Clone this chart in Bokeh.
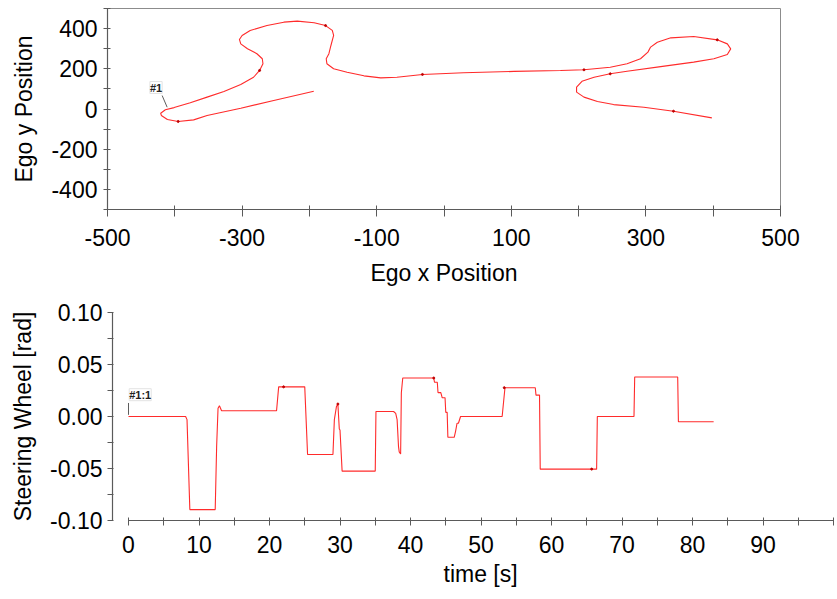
from bokeh.plotting import figure
from bokeh.layouts import column, row
from bokeh.models import Range1d, FixedTicker, NumeralTickFormatter, Label, Title
from bokeh.embed import file_html
from bokeh.resources import INLINE

# ---- ego trajectory (x/y position) ----
ego_x = [-193.5, -253, -302, -352, -372, -395, -411, -420, -421, -414,
         -401, -377, -352, -327, -302, -283, -274, -269, -270, -278,
         -292, -302, -304, -300, -288, -263, -238, -218, -193, -176,
         -166, -164, -168, -171, -175, -174, -164, -144, -119, -94,
         -70, -32, 29, 104, 173, 208, 247, 272, 292, 303,
         307, 317, 337, 371, 406, 421, 426, 421, 401, 371,
         322, 272, 247, 223, 205, 197, 197, 208, 228, 252,
         297, 341, 398]
ego_y = [88.6, 42, 4, -32, -54, -62, -52, -32, -21, -4,
         7, 31, 59, 87, 122, 158, 192, 225, 250, 275,
         300, 324, 346, 366, 391, 415, 432, 437, 429, 415,
         391, 366, 316, 275, 250, 225, 200, 183, 165, 155,
         158, 172, 180, 187, 191.5, 195, 208, 225, 250, 283,
         308, 332, 354, 361, 344, 324, 299, 271, 250, 233,
         211, 188, 175, 158, 138, 109, 84, 59, 37, 22,
         9, -11, -44]

# sample markers along the trajectory
ego_mark_x = [-395, -274, -176, -32, 208, 406, 247, 341]
ego_mark_y = [-62, 192, 415, 172, 195, 344, 175, -11]

# ---- steering wheel angle over time ----
time_s = [0, 8.1, 8.3, 8.7, 12.3, 12.5, 12.7, 12.9, 13.05, 13.2,
          21.0, 21.3, 25.0, 25.4, 29.0, 29.2, 29.5, 29.7, 29.9, 30.0,
          30.3, 35.0, 35.1, 37.6, 37.9, 38.1, 38.3, 38.4, 38.6, 38.7,
          38.9, 43.3, 43.4, 43.8, 43.9, 44.3, 44.5, 44.9, 45.0, 45.2,
          45.3, 46.2, 46.4, 46.6, 46.8, 47.1, 53.0, 53.4, 57.7, 57.8,
          58.3, 58.4, 66.4, 66.5, 71.7, 71.8, 77.9, 78.0, 83.0]
steer = [0.0, 0.0, -0.003, -0.0895, -0.0895, -0.029, 0.008, 0.0103, 0.008, 0.0055,
         0.0055, 0.0285, 0.0285, -0.0365, -0.0365, -0.003, 0.0097, 0.012, -0.012, -0.013,
         -0.0525, -0.0525, 0.0048, 0.0048, 0.003, -0.003, -0.029, -0.034, -0.036, 0.0226,
         0.037, 0.037, 0.033, 0.033, 0.023, 0.023, 0.018, 0.018, 0.004, 0.004,
         -0.020, -0.020, -0.014, -0.0065, -0.0065, 0.0, 0.0, 0.0277, 0.0277, 0.0206,
         0.0206, -0.0506, -0.0506, 0.0, 0.0, 0.038, 0.038, -0.005, -0.005]

steer_mark_t = [22.0, 29.7, 43.3, 53.3, 65.7]
steer_mark_v = [0.0285, 0.012, 0.037, 0.0277, -0.0506]

# ---- ticks ----
x_major = [-500, -300, -100, 100, 300, 500]
x_minor = [-400, -200, 0, 200, 400]
y_major = [-400, -200, 0, 200, 400]
y_minor = [-500, -300, -100, 100, 300, 500]
t_major = [0, 10, 20, 30, 40, 50, 60, 70, 80, 90]
t_minor = [5, 15, 25, 35, 45, 55, 65, 75, 85, 95, 100]
t_bounds = (0, 100)
s_major = [-0.10, -0.05, 0.0, 0.05, 0.10]
s_minor = [-0.075, -0.025, 0.025, 0.075]

# annotation anchors
tag1_pos = (-437, 77)
tag1_leader_x = [-418.8, -411.4]
tag1_leader_y = [67, 9]
tag2_pos = (0.1, 0.0152)
tag2_leader_x = [0, 0]
tag2_leader_y = [0.013, 0.0016]

FONT = "Liberation Sans"
FSIZE = "23px"
RED = "#ff2b2b"
AXIS = "#5a5a5a"


def style_axis(ax, tin, tout, standoff, label_standoff):
    ax.axis_line_color = AXIS
    ax.axis_line_width = 1.2
    ax.major_tick_line_color = AXIS
    ax.minor_tick_line_color = AXIS
    ax.major_tick_in = tin
    ax.major_tick_out = tout
    ax.minor_tick_in = tin
    ax.minor_tick_out = tout
    ax.major_label_text_font = FONT
    ax.major_label_text_font_size = FSIZE
    ax.major_label_text_color = "black"
    ax.major_label_standoff = standoff
    ax.axis_label_text_font = FONT
    ax.axis_label_text_font_size = FSIZE
    ax.axis_label_text_font_style = "normal"
    ax.axis_label_text_color = "black"
    ax.axis_label_standoff = label_standoff


def plain_labels(values):
    # ASCII hyphen for negative numbers
    return {v: str(v) for v in values}


# ---- top: trajectory ----
p1 = figure(frame_width=673, frame_height=201,
            min_border_left=107, min_border_right=57,
            min_border_top=8, min_border_bottom=91,
            x_range=Range1d(-500, 500), y_range=Range1d(-500, 500),
            output_backend="svg", toolbar_location=None)
p1.grid.visible = False
p1.outline_line_color = "#8c8c8c"
p1.background_fill_color = "white"
p1.border_fill_color = "white"

p1.xaxis.ticker = FixedTicker(ticks=x_major, minor_ticks=x_minor)
p1.yaxis.ticker = FixedTicker(ticks=y_major, minor_ticks=y_minor)
p1.xaxis.major_label_overrides = plain_labels(x_major)
p1.yaxis.major_label_overrides = plain_labels(y_major)
p1.xaxis.axis_label = "Ego x Position"
p1.yaxis.axis_label = "Ego y Position"
style_axis(p1.xaxis[0], 4, 7, 12, 11)
style_axis(p1.yaxis[0], 3, 4, 6, 11)

p1.line(ego_x, ego_y, line_color=RED, line_width=1.1)
p1.scatter(ego_mark_x, ego_mark_y, size=2, color="#c00000")
p1.line(tag1_leader_x, tag1_leader_y, line_color="#333333", line_width=0.8)
p1.add_layout(Label(x=tag1_pos[0], y=tag1_pos[1], text="#1",
                    text_font=FONT, text_font_size="11px", text_font_style="bold",
                    text_color="#222222",
                    background_fill_color="white", border_line_color="#e3e3e3"))

# ---- bottom: steering wheel ----
p2 = figure(frame_width=721, frame_height=208,
            min_border_left=112, min_border_right=4,
            min_border_top=12, min_border_bottom=79,
            x_range=Range1d(-2.27, 100), y_range=Range1d(-0.1, 0.1),
            output_backend="svg", toolbar_location=None)
p2.grid.visible = False
p2.outline_line_color = None
p2.background_fill_color = "white"
p2.border_fill_color = "white"

p2.xaxis.ticker = FixedTicker(ticks=t_major, minor_ticks=t_minor)
p2.xaxis.bounds = t_bounds
p2.yaxis.ticker = FixedTicker(ticks=s_major, minor_ticks=s_minor)
p2.yaxis.formatter = NumeralTickFormatter(format="0.00")
p2.yaxis.axis_label = "Steering Wheel [rad]"
style_axis(p2.xaxis[0], 3, 5, 10, 9)
style_axis(p2.yaxis[0], 1, 5, 5, 11)

# x-axis title placed under the middle of the bounded time axis
p2.add_layout(Title(text="time [s]", align="left", offset=331, standoff=7,
                    text_font=FONT, text_font_size=FSIZE, text_font_style="normal",
                    text_color="black"), "below")

p2.line(time_s, steer, line_color=RED, line_width=1.1)
p2.scatter(steer_mark_t, steer_mark_v, size=2, color="#c00000")
p2.line(tag2_leader_x, tag2_leader_y, line_color="#333333", line_width=0.8)
p2.add_layout(Label(x=tag2_pos[0], y=tag2_pos[1], text="#1:1",
                    text_font=FONT, text_font_size="11px", text_font_style="bold",
                    text_color="#222222",
                    background_fill_color="white", border_line_color="#e3e3e3"))

layout = column(row(p1), row(p2), spacing=0)
open("out.html", "w").write(file_html(layout, INLINE))
